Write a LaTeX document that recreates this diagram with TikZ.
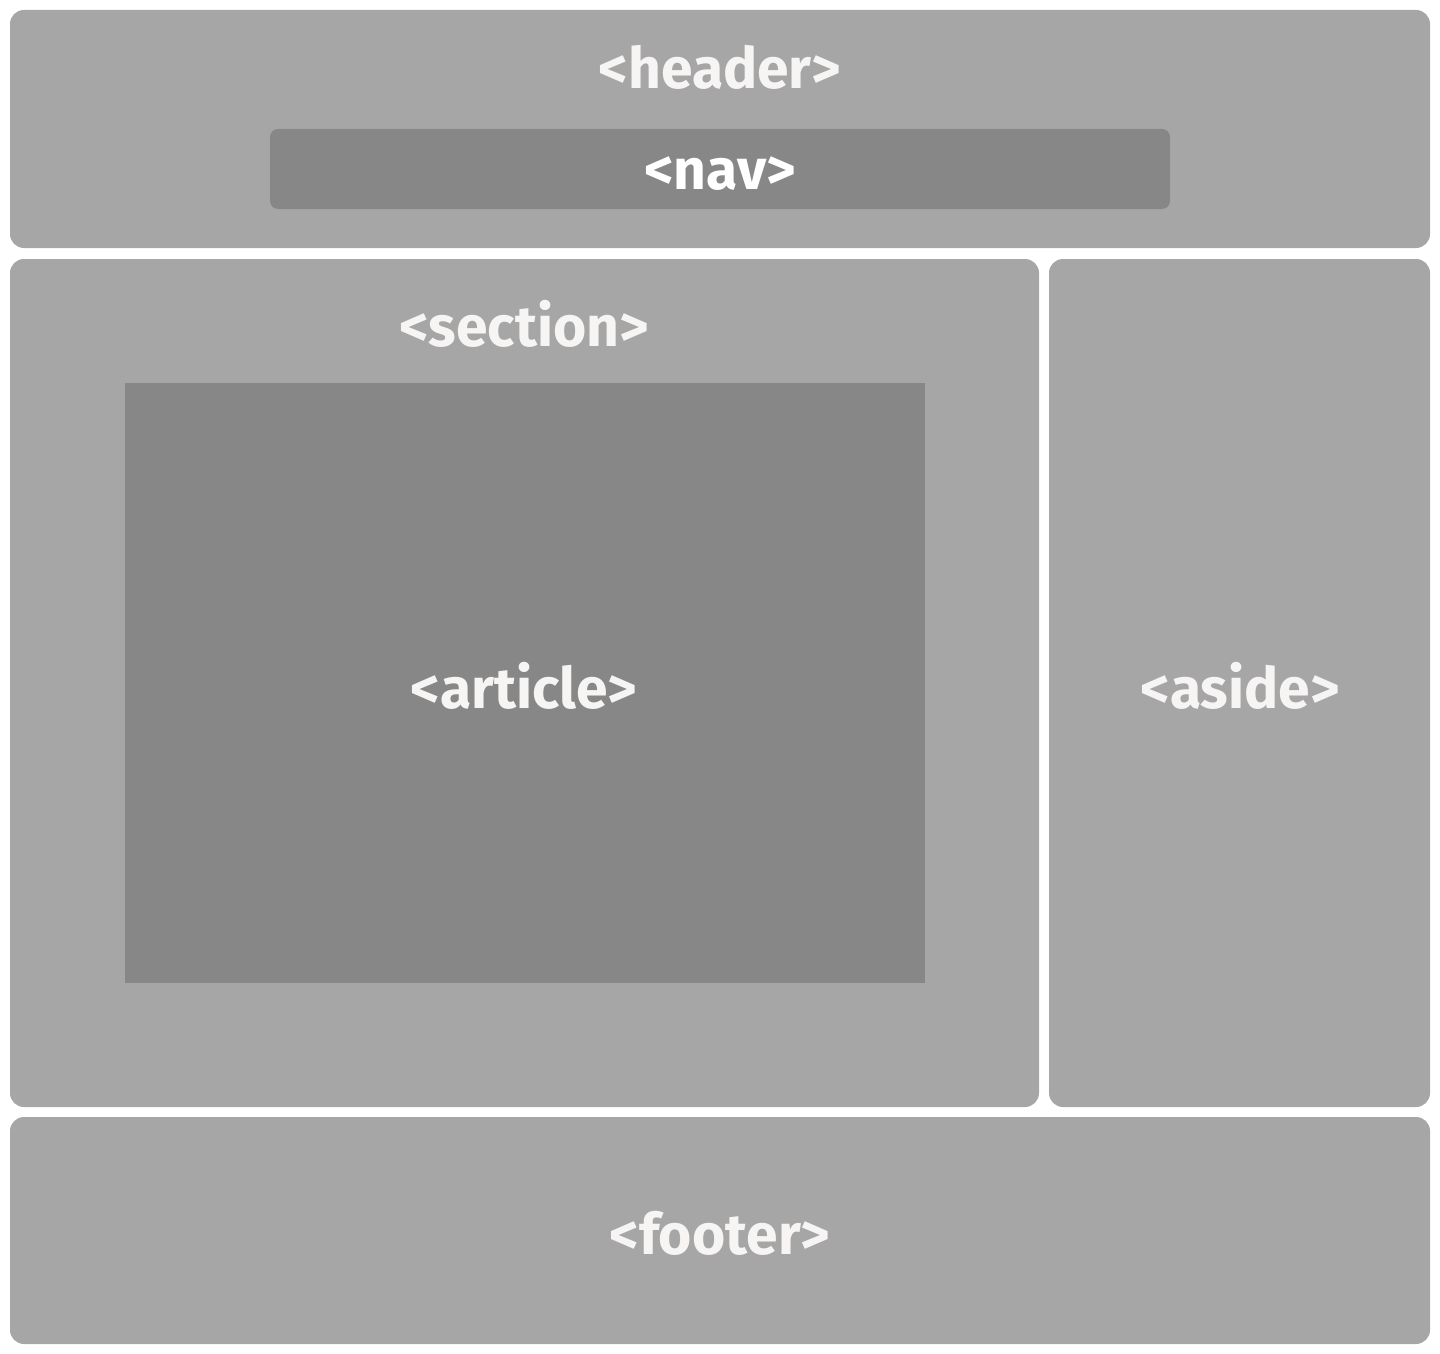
\documentclass[tikz,border=0pt]{standalone}
\usepackage{fontspec}
\setmainfont{Fira Sans}
\definecolor{boxgray}{HTML}{A6A6A6}
\definecolor{darkgray}{HTML}{878787}
\definecolor{txt}{HTML}{F7F4F4}
\begin{document}
\begin{tikzpicture}[x=0.5pt,y=-0.5pt,
  box/.style={fill=boxgray,draw=none,rounded corners=7pt},
  inner/.style={fill=darkgray,draw=none},
  lbl/.style={text=txt,font=\fontsize{28.5}{30}\selectfont\bfseries,inner sep=0pt,anchor=base}]
\useasboundingbox (0,0) rectangle (1440,1354);
\fill[box] (10,10) rectangle (1430,248);
\fill[inner,rounded corners=4pt] (270,129) rectangle (1170,209);
\fill[box] (10,259) rectangle (1039,1107);
\fill[inner] (125,383) rectangle (925,983);
\fill[box] (1049,259) rectangle (1430,1107);
\fill[box] (10,1117) rectangle (1430,1344);
\node[lbl] (header) at (720,89) {<header>};
\node[lbl,text=white] (nav) at (720,189) {<nav>};
\node[lbl] (section) at (524,346) {<section>};
\node[lbl] (article) at (524,708) {<article>};
\node[lbl] (aside) at (1240,708) {<aside>};
\node[lbl] (footer) at (720,1254) {<footer>};
\end{tikzpicture}
\end{document}
